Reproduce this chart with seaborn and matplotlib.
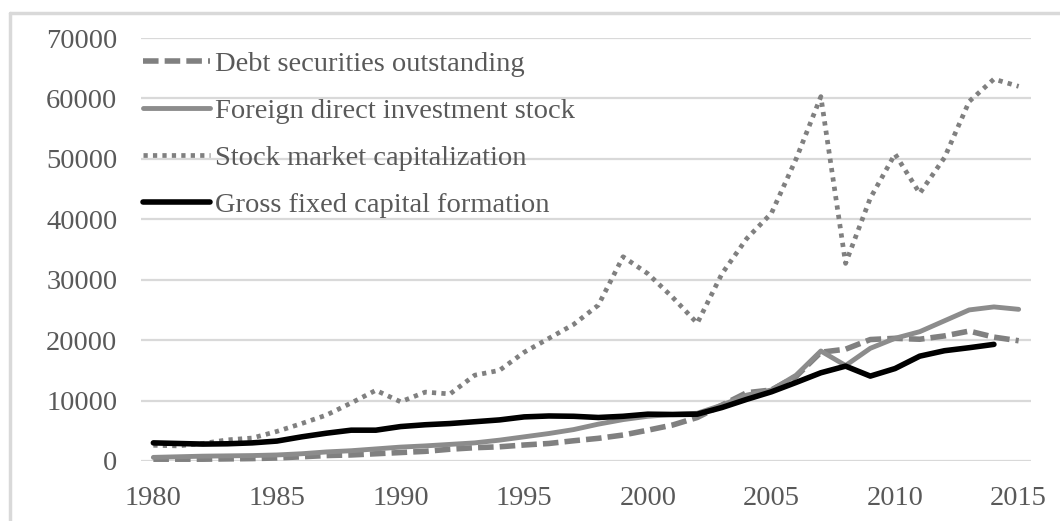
import numpy as np
import pandas as pd
import matplotlib
matplotlib.use("Agg")
import matplotlib.pyplot as plt
from matplotlib.lines import Line2D
import seaborn as sns

years = list(range(1980, 2016))

debt_securities = [300, 300, 300, 350, 400, 500, 700, 900, 1000, 1200, 1400, 1600,
                   1950, 2200, 2350, 2650, 2900, 3350, 3750, 4300, 5100, 5950, 7200, 9250,
                   11300, 11750, 14000, 18000, 18500, 20100, 20300, 20150, 20700, 21500, 20500, 19900]

fdi_stock = [600, 700, 800, 850, 900, 1000, 1200, 1500, 1700, 2000, 2300, 2500,
             2750, 3000, 3450, 4000, 4550, 5200, 6100, 6850, 7400, 7700, 7900, 9250,
             10900, 11750, 14200, 18200, 15800, 18650, 20300, 21400, 23200, 25000, 25500, 25100]

stock_market_cap = [2600, 2500, 2900, 3500, 3800, 4900, 6200, 7600, 9600, 11700, 9800, 11400,
                    11100, 14200, 15000, 18000, 20300, 22600, 25800, 33800, 31000, 27100, 22800, 31000,
                    36800, 41000, 50000, 60300, 32700, 43500, 50800, 44300, 50200, 59500, 63200, 62000]

gross_fixed_capital = [3000, 2900, 2800, 2850, 3000, 3300, 4000, 4600, 5100, 5100, 5700, 6000,
                       6200, 6500, 6800, 7300, 7450, 7400, 7200, 7400, 7750, 7700, 7750, 8850,
                       10200, 11450, 13000, 14600, 15700, 14050, 15300, 17350, 18250, 18750, 19300, np.nan]

labels = ["Debt securities outstanding", "Foreign direct investment stock",
          "Stock market capitalization", "Gross fixed capital formation"]

sns.set_style("white")
plt.rcParams['font.family'] = ['Liberation Serif', 'DejaVu Serif']

W, H = 1060, 521
fig = plt.figure(figsize=(W / 100, H / 100), dpi=100)
ax = fig.add_axes([141 / W, 1 - 461 / H, (1031 - 141) / W, (461 - 38) / H])

series = [debt_securities, fdi_stock, stock_market_cap, gross_fixed_capital]
colors = ["#808080", "#8c8c8c", "#808080", "#000000"]
widths = [4.0, 3.5, 3.4, 4.0]
dashes = [(2.8, 1.1), None, (0.9, 1.1), None]

for vals, lab, col, lw, ds in zip(series, labels, colors, widths, dashes):
    df = pd.DataFrame({"year": years, "value": vals}).dropna()
    sns.lineplot(data=df, x="year", y="value", ax=ax, color=col, linewidth=lw,
                 label=lab, estimator=None, sort=True)
    ln = ax.lines[-1]
    ln.set_clip_on(False)
    ln.set_solid_joinstyle("round")
    if ds is not None:
        ln.set_linestyle((0, ds))
        ln.set_dash_capstyle("butt")

FS = 20.5
ax.set_xlim(1979.5, 2015.5)
ax.set_ylim(0, 70000)
ax.set_xticks(list(range(1980, 2016, 5)))
ax.set_yticks(list(range(0, 70001, 10000)))
ax.set_xlabel("")
ax.set_ylabel("")
ax.grid(axis="y", color="#d9d9d9", linewidth=1.6)
ax.grid(axis="x", visible=False)
ax.set_axisbelow(True)
for s in ax.spines.values():
    s.set_visible(False)
ax.tick_params(axis="both", length=0, labelsize=FS, colors="#595959")
ax.tick_params(axis="y", pad=17)
ax.tick_params(axis="x", pad=18)

handles, labs = ax.get_legend_handles_labels()
leg = ax.legend(handles, labs, loc="upper left",
                bbox_to_anchor=(143 / W, 1 - 51 / H), bbox_transform=fig.transFigure,
                frameon=False, fontsize=FS, handlelength=2.35, handletextpad=0.18,
                labelspacing=0.74, borderpad=0, borderaxespad=0)
for t in leg.get_texts():
    t.set_color("#595959")

# light outer chart border (left and top)
fig.add_artist(Line2D([10 / W, 10 / W], [0, 1 - 13 / H], transform=fig.transFigure,
                      color="#d9d9d9", linewidth=2.5))
fig.add_artist(Line2D([10 / W, 1], [1 - 13 / H, 1 - 13 / H], transform=fig.transFigure,
                      color="#d9d9d9", linewidth=2.5))

fig.savefig("out.png", dpi=100)
